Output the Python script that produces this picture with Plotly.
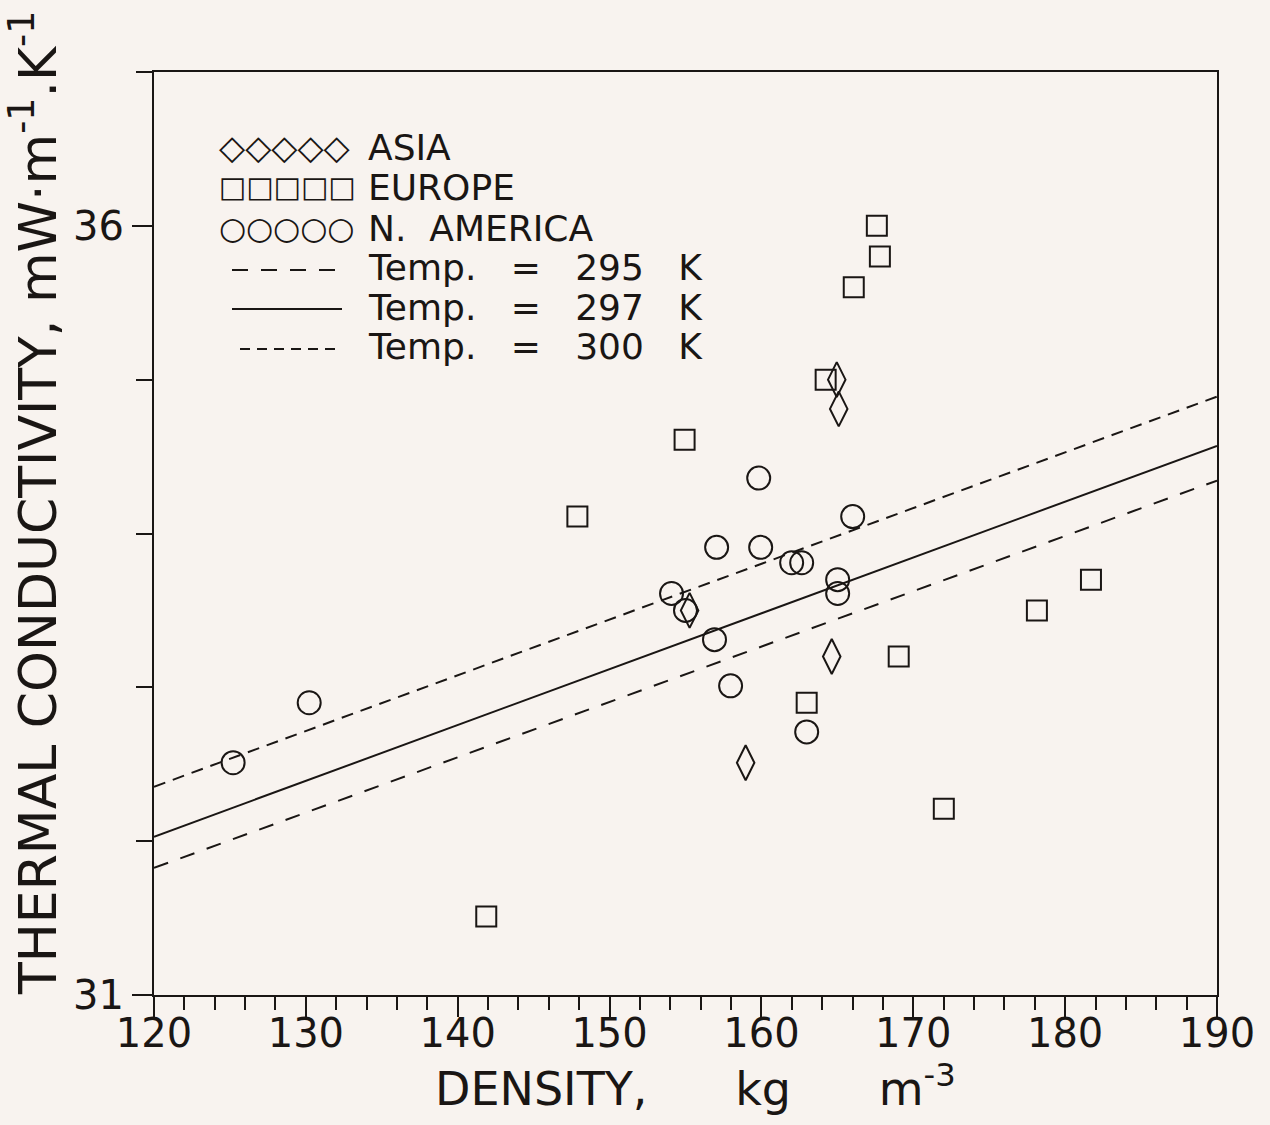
import plotly.graph_objects as go

# ---------------- data ----------------
asia_x = [164.96, 165.09, 155.27, 164.63, 158.96]
asia_y = [35.00, 34.81, 33.50, 33.20, 32.51]

europe_x = [167.6, 167.8, 166.08, 164.23, 154.94, 147.88, 181.70, 178.14, 169.04, 162.98, 172.01, 141.88]
europe_y = [36.00, 35.80, 35.60, 35.00, 34.61, 34.11, 33.70, 33.50, 33.20, 32.90, 32.21, 31.51]

namer_x = [125.21, 130.22, 159.82, 166.01, 157.05, 159.95, 161.99, 162.65, 165.02, 165.02, 154.08, 155.00, 156.91, 157.97, 162.98]
namer_y = [32.51, 32.90, 34.36, 34.11, 33.91, 33.91, 33.81, 33.81, 33.70, 33.61, 33.61, 33.50, 33.31, 33.01, 32.71]

line_x = [120, 190]
t295_y = [31.826, 34.344]
t297_y = [32.029, 34.570]
t300_y = [32.354, 34.890]

x_range = [120, 190]
y_range = [31, 37]
x_ticks = [120, 130, 140, 150, 160, 170, 180, 190]
y_ticks = [31, 36]

legend_symbols = [("\u25C7\u25C7\u25C7\u25C7\u25C7", 34),
                  ("\u25A1\u25A1\u25A1\u25A1\u25A1", 29),
                  ("\u25CB\u25CB\u25CB\u25CB\u25CB", 31)]
legend_labels = ["ASIA", "EUROPE", "N.&nbsp;&nbsp;AMERICA",
                 "Temp.&nbsp;&nbsp; =&nbsp;&nbsp; 295&nbsp;&nbsp; K",
                 "Temp.&nbsp;&nbsp; =&nbsp;&nbsp; 297&nbsp;&nbsp; K",
                 "Temp.&nbsp;&nbsp; =&nbsp;&nbsp; 300&nbsp;&nbsp; K"]

# ---------------- figure ----------------
BG = "#f8f3ef"
INK = "#1a1614"
FONT = "DejaVu Sans"

fig = go.Figure()

fig.add_trace(go.Scatter(x=line_x, y=t295_y, mode="lines",
                         line=dict(color=INK, width=2, dash="15px,13px"), showlegend=False))
fig.add_trace(go.Scatter(x=line_x, y=t297_y, mode="lines",
                         line=dict(color=INK, width=2), showlegend=False))
fig.add_trace(go.Scatter(x=line_x, y=t300_y, mode="lines",
                         line=dict(color=INK, width=2, dash="12px,8px"), showlegend=False))

fig.add_trace(go.Scatter(x=europe_x, y=europe_y, mode="markers",
                         marker=dict(symbol="square-open", size=20, color=INK, line=dict(width=2, color=INK)),
                         showlegend=False))
fig.add_trace(go.Scatter(x=namer_x, y=namer_y, mode="markers",
                         marker=dict(symbol="circle-open", size=23, color=INK, line=dict(width=2, color=INK)),
                         showlegend=False))
fig.add_trace(go.Scatter(x=asia_x, y=asia_y, mode="markers",
                         marker=dict(symbol="diamond-tall-open", size=25, color=INK, line=dict(width=2, color=INK)),
                         showlegend=False))

# layout geometry (pixels)
L, R, T, B = 154, 53, 72, 130
W, H = 1270, 1125
pw, ph = W - L - R, H - T - B

def px2x(px):
    return (px - L) / pw

def py2y(py):
    return (H - B - py) / ph

row_py = [147, 187, 228, 268, 307, 347]
for (sym, fs), py in zip(legend_symbols, row_py[:3]):
    fig.add_annotation(x=px2x(217), y=py2y(py), xref="paper", yref="paper",
                       text=sym, showarrow=False, xanchor="left", yanchor="middle",
                       font=dict(family=FONT, size=fs, color=INK))
for label, py in zip(legend_labels, row_py):
    fig.add_annotation(x=px2x(366), y=py2y(py), xref="paper", yref="paper",
                       text=label, showarrow=False, xanchor="left", yanchor="middle",
                       font=dict(family=FONT, size=36, color=INK))

legend_lines = [(232, 268, "16px,13px"), (232, 307, "solid"), (240, 347, "10px,7px")]
for x0, py, dash in legend_lines:
    fig.add_shape(type="line", xref="paper", yref="paper",
                  x0=px2x(x0), x1=px2x(342), y0=py2y(py + 2), y1=py2y(py + 2),
                  line=dict(color=INK, width=2, dash=dash))

# axis titles as annotations (positioned like the reference)
fig.add_annotation(x=px2x(433), y=py2y(1086), xref="paper", yref="paper",
                   text="DENSITY,&nbsp;&nbsp;&nbsp;&nbsp;&nbsp; kg&nbsp;&nbsp;&nbsp;&nbsp;&nbsp; m<sup>-3</sup>",
                   showarrow=False, xanchor="left", yanchor="middle",
                   font=dict(family=FONT, size=46, color=INK))
fig.add_annotation(x=px2x(34), y=py2y(503), xref="paper", yref="paper",
                   text="THERMAL CONDUCTIVITY, mW\u00B7m<sup>-1</sup>.K<sup>-1</sup>",
                   textangle=-90, showarrow=False, xanchor="center", yanchor="middle",
                   font=dict(family=FONT, size=52, color=INK))

fig.update_layout(
    width=W, height=H,
    margin=dict(l=L, r=R, t=T, b=B),
    paper_bgcolor=BG, plot_bgcolor=BG,
    font=dict(family=FONT, color=INK),
    showlegend=False,
)

fig.update_xaxes(
    range=x_range, tickvals=x_ticks, ticks="outside", ticklen=20, tickwidth=2, tickcolor=INK,
    minor=dict(dtick=2, ticks="outside", ticklen=13, tickwidth=2, tickcolor=INK),
    showline=True, linewidth=2, linecolor=INK, mirror=True, showgrid=False, zeroline=False,
    tickfont=dict(family=FONT, size=40, color=INK), ticklabelstandoff=-18,
)
fig.update_yaxes(
    range=y_range, tickvals=y_ticks, ticks="outside", ticklen=20, tickwidth=2, tickcolor=INK,
    minor=dict(dtick=1, ticks="outside", ticklen=16, tickwidth=2, tickcolor=INK),
    showline=True, linewidth=2, linecolor=INK, mirror=True, showgrid=False, zeroline=False,
    tickfont=dict(family=FONT, size=40, color=INK),
)

fig.write_html("out.html", config={"displayModeBar": False},
               post_script="document.body.style.margin='0px';")
